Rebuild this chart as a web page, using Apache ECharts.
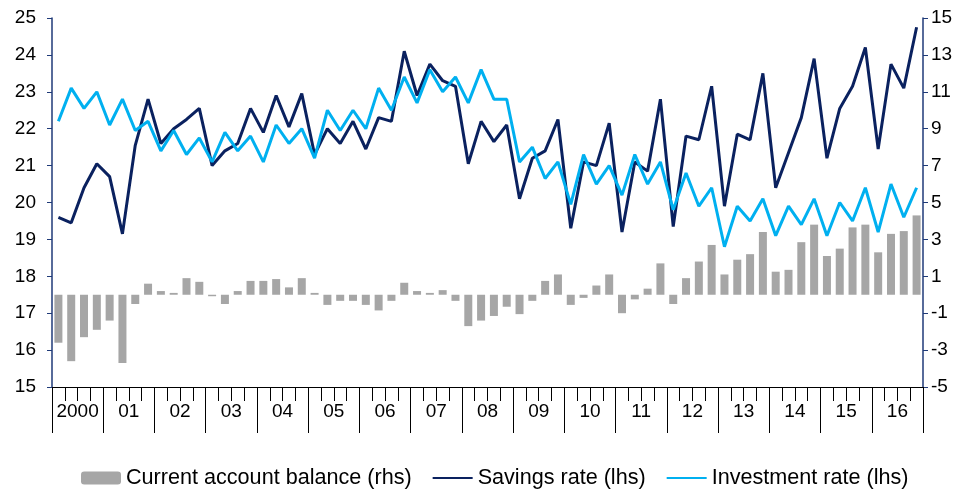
<!DOCTYPE html>
<html>
<head>
<meta charset="utf-8">
<script src="https://cdn.jsdelivr.net/npm/echarts@6/dist/echarts.min.js"></script>
<style>
  html, body { margin: 0; padding: 0; background: #fff; }
  #chart { width: 971px; height: 489px; }
</style>
</head>
<body>
<div id="chart"></div>
<script>
const years = ["2000", "01", "02", "03", "04", "05", "06", "07", "08", "09", "10", "11", "12", "13", "14", "15", "16"];
const quarters = years.flatMap((y) => ["Q1", "Q2", "Q3", "Q4"].map((q) => y + " " + q));

// current account balance, % (rhs)
const currentAccount = [
  -2.6, -3.6, -2.3, -1.9, -1.4, -3.7, -0.5, 0.6, 0.2, 0.1, 0.9, 0.7,
  -0.08, -0.5, 0.2, 0.75, 0.75, 0.85, 0.4, 0.9, 0.1, -0.55, -0.33, -0.33,
  -0.55, -0.85, -0.33, 0.65, 0.2, 0.1, 0.25, -0.33, -1.7, -1.4, -1.15, -0.65,
  -1.05, -0.33, 0.75, 1.1, -0.55, -0.17, 0.5, 1.1, -1.0, -0.25, 0.33, 1.7,
  -0.5, 0.9, 1.8, 2.7, 1.1, 1.9, 2.2, 3.4, 1.25, 1.35, 2.85, 3.8,
  2.1, 2.5, 3.65, 3.8, 2.3, 3.3, 3.45, 4.3
];

// savings rate, % (lhs)
const savingsRate = [
  19.6, 19.45, 20.4, 21.05, 20.7, 19.15, 21.55, 22.8, 21.6, 22.0, 22.25, 22.55,
  21.0, 21.4, 21.6, 22.55, 21.9, 22.9, 22.05, 22.95, 21.3, 22.0, 21.6, 22.2,
  21.45, 22.3, 22.2, 24.1, 22.9, 23.75, 23.3, 23.15, 21.05, 22.2, 21.65, 22.1,
  20.1, 21.2, 21.4, 22.25, 19.3, 21.1, 21.0, 22.15, 19.2, 21.1, 20.85, 22.8,
  19.35, 21.8, 21.7, 23.15, 19.9, 21.85, 21.7, 23.5, 20.4, 21.35, 22.3, 23.9,
  21.2, 22.55, 23.15, 24.2, 21.45, 23.75, 23.1, 24.75
];

// investment rate, % (lhs)
const investmentRate = [
  22.2, 23.1, 22.55, 23.0, 22.1, 22.8, 21.95, 22.2, 21.4, 21.95, 21.3, 21.75,
  21.1, 21.9, 21.4, 21.8, 21.1, 22.1, 21.6, 22.0, 21.2, 22.5, 21.95, 22.5,
  22.0, 23.1, 22.5, 23.4, 22.7, 23.6, 23.0, 23.4, 22.7, 23.6, 22.8, 22.8,
  21.1, 21.5, 20.65, 21.1, 19.95, 21.3, 20.5, 21.0, 20.2, 21.3, 20.5, 21.1,
  19.8, 20.8, 19.9, 20.4, 18.8, 19.9, 19.5, 20.1, 19.1, 19.9, 19.4, 20.1,
  19.1, 20.0, 19.5, 20.4, 19.2, 20.5, 19.6, 20.4
];

const leftTicks = { min: 15, max: 25, interval: 1 };
const rightTicks = { min: -5, max: 15, interval: 2 };

const chart = echarts.init(document.getElementById("chart"));
const font = "Liberation Sans, Arial, sans-serif";
const axisBlue = "#1f3a78";
const darkBlue = "#0a215f";
const lightBlue = "#00b0f0";

chart.setOption({
  animation: false,
  textStyle: { fontFamily: font },
  grid: { left: 52, right: 48, top: 18, bottom: 102 },
  legend: {
    top: 462,
    left: 76,
    itemGap: 20,
    itemWidth: 40,
    itemHeight: 13,
    textStyle: { fontSize: 21.6, color: "#000", fontFamily: font },
    data: [
      { name: "Current account balance (rhs)" },
      { name: "Savings rate (lhs)", itemStyle: { opacity: 0 } },
      { name: "Investment rate (lhs)", itemStyle: { opacity: 0 } }
    ]
  },
  xAxis: [
    {
      type: "category",
      data: quarters,
      boundaryGap: true,
      axisLine: { show: true, onZero: false, lineStyle: { color: "#000", width: 1 } },
      axisTick: { show: true, interval: 0, length: 14, lineStyle: { color: "#000" } },
      axisLabel: { show: false }
    },
    {
      type: "category",
      data: years,
      boundaryGap: true,
      position: "bottom",
      axisLine: { show: false, onZero: false },
      axisTick: { show: true, interval: 0, length: 46, lineStyle: { color: "#000" } },
      axisLabel: { interval: 0, margin: 15, fontSize: 19, color: "#000", fontFamily: font }
    }
  ],
  yAxis: [
    {
      type: "value",
      ...leftTicks,
      axisLine: { show: true, lineStyle: { color: axisBlue, width: 1.5 } },
      axisTick: { show: true, length: 5, lineStyle: { color: axisBlue } },
      axisLabel: { fontSize: 19, color: "#000", margin: 16, fontFamily: font },
      splitLine: { show: false }
    },
    {
      type: "value",
      ...rightTicks,
      position: "right",
      axisLine: { show: true, lineStyle: { color: axisBlue, width: 1.5 } },
      axisTick: { show: true, length: 5, lineStyle: { color: axisBlue } },
      axisLabel: { fontSize: 19, color: "#000", margin: 8, fontFamily: font },
      splitLine: { show: false }
    }
  ],
  series: [
    {
      name: "Current account balance (rhs)",
      type: "bar",
      xAxisIndex: 0,
      yAxisIndex: 1,
      data: currentAccount,
      barWidth: 8,
      itemStyle: { color: "#a6a6a6" }
    },
    {
      name: "Savings rate (lhs)",
      type: "line",
      xAxisIndex: 0,
      yAxisIndex: 0,
      data: savingsRate,
      symbol: "none",
      lineStyle: { color: darkBlue, width: 3 },
      itemStyle: { color: darkBlue }
    },
    {
      name: "Investment rate (lhs)",
      type: "line",
      xAxisIndex: 0,
      yAxisIndex: 0,
      data: investmentRate,
      symbol: "none",
      lineStyle: { color: lightBlue, width: 3 },
      itemStyle: { color: lightBlue }
    }
  ]
});

window.addEventListener("resize", () => chart.resize());
</script>
</body>
</html>
